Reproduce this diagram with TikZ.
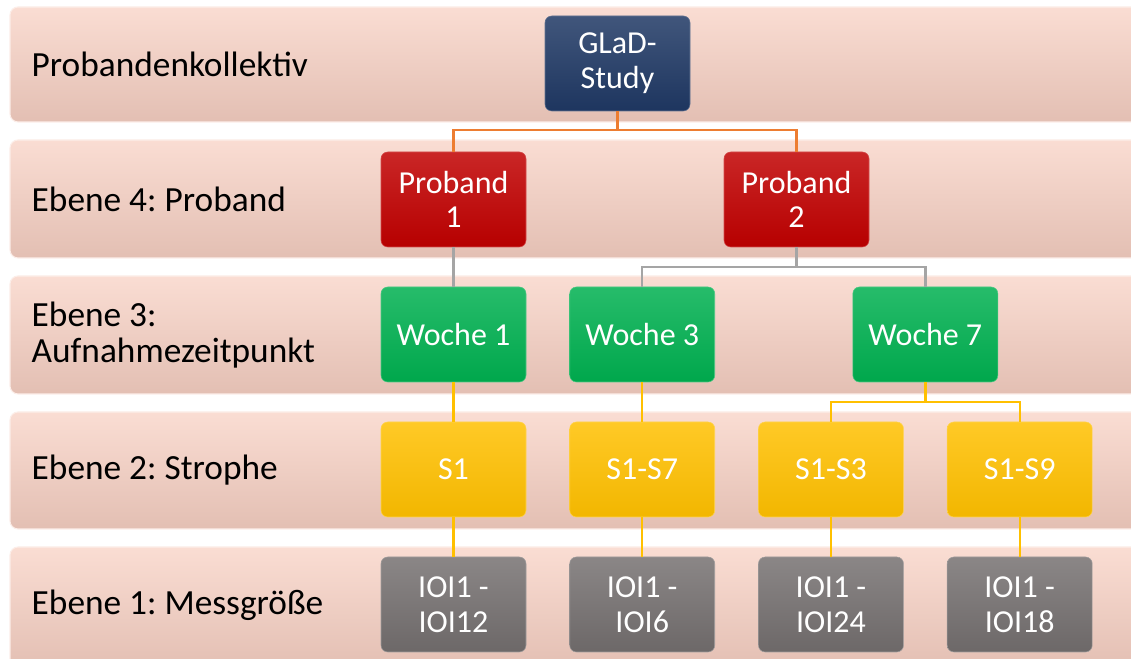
\documentclass[tikz,border=0pt]{standalone}
\usepackage{fontspec}
\setmainfont{Carlito}
\usetikzlibrary{positioning,calc}
\frenchspacing
\definecolor{BandTop}{HTML}{FADDD3}
\definecolor{BandBot}{HTML}{E3BFB3}
\definecolor{GladBlue}{HTML}{1F3864}
\definecolor{ProbRed}{HTML}{C00000}
\definecolor{WocheGreen}{HTML}{00B050}
\definecolor{StrGold}{HTML}{FFC000}
\definecolor{IoiGray}{HTML}{767171}
\definecolor{LinkOrange}{HTML}{ED7D31}
\definecolor{LinkGray}{HTML}{A5A5A5}

\begin{document}
\begin{tikzpicture}[x=0.75pt,y=0.75pt,node distance=29.6pt and 32.4pt]
  \tikzstyle{band}=[rounded corners=6pt, top color=BandTop, bottom color=BandBot, draw=BandTop!50!white, line width=0.8pt]
  \tikzstyle{lvl}=[anchor=west, align=left, font=\fontsize{26.5}{27}\selectfont]
  \tikzstyle{box}=[rounded corners=5pt, minimum width=108.75pt, minimum height=71.25pt, align=center, text=white, font=\fontsize{24}{26}\selectfont]
  \tikzstyle{blue box}=[box, top color=GladBlue!85!white, middle color=GladBlue, bottom color=GladBlue!95!black, draw=GladBlue!70!white]
  \tikzstyle{red box}=[box, top color=ProbRed!85!white, middle color=ProbRed, bottom color=ProbRed!95!black, draw=ProbRed!70!white]
  \tikzstyle{green box}=[box, top color=WocheGreen!85!white, middle color=WocheGreen, bottom color=WocheGreen!95!black, draw=WocheGreen!70!white]
  \tikzstyle{gold box}=[box, top color=StrGold!85!white, middle color=StrGold, bottom color=StrGold!95!black, draw=StrGold!70!white]
  \tikzstyle{gray box}=[box, top color=IoiGray!85!white, middle color=IoiGray, bottom color=IoiGray!92!black, draw=IoiGray!70!white]
  \tikzstyle{link}=[line width=1.8pt]

  \useasboundingbox (0,0) rectangle (1131,659);
  \fill[white] (0,0) rectangle (1131,659);

  % level bands
  \path[band] (10,537) rectangle (1145,652);
  \path[band] (10,401) rectangle (1145,519);
  \path[band] (10,265) rectangle (1145,383);
  \path[band] (10,130) rectangle (1145,247);
  \path[band] (10,-10) rectangle (1145,112);

  \node[lvl] (l0) at (27,594.5) {Probandenkollektiv};
  \node[lvl] (l4) at (27,460) {Ebene 4: Proband};
  \node[lvl] (l3) at (27,324) {Ebene 3:\\Aufnahmezeitpunkt};
  \node[lvl] (l2) at (27,188.5) {Ebene 2: Strophe};
  \node[lvl] (l1) at (27,54) {Ebene 1: Messgröße};

  % hierarchy
  \node[blue box] (glad) at (617.5,595.5) {GLaD-\\Study};
  \node[red box] (p1) at (453.5,459.5) {Proband\\1};
  \node[red box] (p2) at (796.5,459.5) {Proband\\2};
  \node[green box, below=of p1] (w1) {Woche 1};
  \node[gold box, below=of w1] (s1) {S1};
  \node[gold box, right=of s1] (s17) {S1-S7};
  \node[gold box, right=of s17] (s13) {S1-S3};
  \node[gold box, right=of s13] (s19) {S1-S9};
  \node[green box, above=of s17] (w3) {Woche 3};
  \node[green box] (w7) at ($(s13)!0.5!(s19)+(0,135)$) {Woche 7};
  \node[gray box, below=of s1] (i1) {IOI1 -\\IOI12};
  \node[gray box, below=of s17] (i2) {IOI1 -\\IOI6};
  \node[gray box, below=of s13] (i3) {IOI1 -\\IOI24};
  \node[gray box, below=of s19] (i4) {IOI1 -\\IOI18};

  \draw[link, LinkOrange] (glad.south) -- ++(0,-19) -| (p1.north);
  \draw[link, LinkOrange] (glad.south) -- ++(0,-19) -| (p2.north);
  \draw[link, LinkGray] (p1.south) -- (w1.north);
  \draw[link, LinkGray] (p2.south) -- ++(0,-20) -| (w3.north);
  \draw[link, LinkGray] (p2.south) -- ++(0,-20) -| (w7.north);
  \draw[link, StrGold] (w1.south) -- (s1.north);
  \draw[link, StrGold] (w3.south) -- (s17.north);
  \draw[link, StrGold] (w7.south) -- ++(0,-20) -| (s13.north);
  \draw[link, StrGold] (w7.south) -- ++(0,-20) -| (s19.north);
  \draw[link, StrGold] (s1.south) -- (i1.north);
  \draw[link, StrGold] (s17.south) -- (i2.north);
  \draw[link, StrGold] (s13.south) -- (i3.north);
  \draw[link, StrGold] (s19.south) -- (i4.north);
\end{tikzpicture}
\end{document}
